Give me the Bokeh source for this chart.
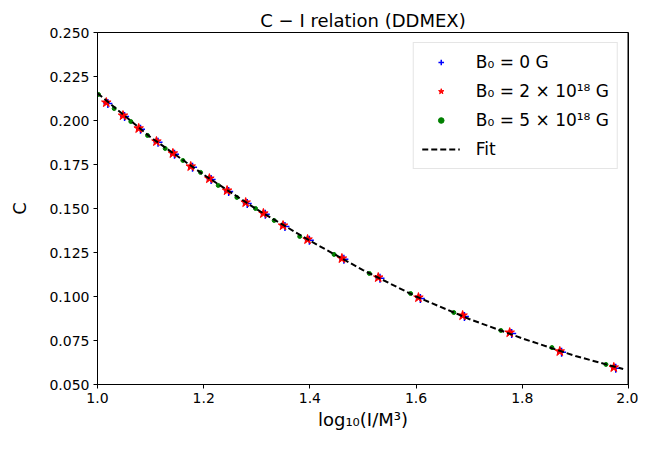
from bokeh.plotting import figure
from bokeh.models import FixedTicker, NumeralTickFormatter, Range1d, Legend, LegendItem
from bokeh.embed import file_html
from bokeh.resources import INLINE

# B0 = 0 G
x_b0 = [1.0195, 1.051, 1.081, 1.114, 1.145, 1.179, 1.214, 1.247, 1.282, 1.316,
        1.353, 1.399, 1.464, 1.532, 1.608, 1.691, 1.780, 1.874, 1.976]
c_b0 = [0.2097, 0.2023, 0.1950, 0.1876, 0.1808, 0.1734, 0.1665, 0.1597, 0.1529, 0.1467,
        0.1398, 0.1319, 0.1211, 0.1103, 0.0989, 0.0887, 0.0790, 0.0683, 0.0592]

# B0 = 2e18 G
x_b2 = [1.0166, 1.048, 1.0776, 1.111, 1.142, 1.1756, 1.2107, 1.244, 1.2791, 1.3124,
        1.3494, 1.3956, 1.4603, 1.5287, 1.6044, 1.6876, 1.7763, 1.8706, 1.9723]
c_b2 = [0.2102, 0.2028, 0.1955, 0.1881, 0.1813, 0.1739, 0.1670, 0.1602, 0.1534, 0.1472,
        0.1403, 0.1324, 0.1216, 0.1108, 0.0994, 0.0892, 0.0795, 0.0688, 0.0597]

# B0 = 5e18 G
x_b5 = [1.0018, 1.0314, 1.0628, 1.0943, 1.1275, 1.1608, 1.1941, 1.2274, 1.2625, 1.2976,
        1.3327, 1.3808, 1.4455, 1.512, 1.5896, 1.671, 1.7597, 1.8558, 1.9575]
c_b5 = [0.2148, 0.2068, 0.1994, 0.1915, 0.1841, 0.1773, 0.1705, 0.1631, 0.1563, 0.1500,
        0.1432, 0.1341, 0.1239, 0.1131, 0.1017, 0.0909, 0.0807, 0.0710, 0.0614]

# Fit curve
x_fit = [1.0, 1.1, 1.2, 1.3, 1.4, 1.5, 1.6, 1.7, 1.8, 1.9, 1.99]
c_fit = [0.2155, 0.1905, 0.1692, 0.1495, 0.1317, 0.1150, 0.1000, 0.0872, 0.0762, 0.0662, 0.0588]

x_ticks = [1.0, 1.2, 1.4, 1.6, 1.8, 2.0]
y_ticks = [0.050, 0.075, 0.100, 0.125, 0.150, 0.175, 0.200, 0.225, 0.250]

FONT = "DejaVu Sans"

p = figure(width=638, height=433, output_backend="svg", toolbar_location=None,
           x_range=Range1d(1.0, 2.0), y_range=Range1d(0.05, 0.25),
           min_border_left=97, min_border_right=10, min_border_top=32, min_border_bottom=49)

p.title.text = "C \u2212 I relation (DDMEX)"
p.title.align = "center"
p.title.text_font = FONT
p.title.text_font_size = "18px"
p.title.text_font_style = "normal"
p.title.text_color = "black"
p.title.standoff = 4

p.xgrid.visible = False
p.ygrid.visible = False
p.outline_line_color = "black"
p.outline_line_width = 1

for ax in (p.xaxis[0], p.yaxis[0]):
    ax.major_label_text_font = FONT
    ax.major_label_text_font_size = "14px"
    ax.major_label_text_color = "black"
    ax.axis_label_text_font = FONT
    ax.axis_label_text_font_size = "18px"
    ax.axis_label_text_font_style = "normal"
    ax.axis_label_text_color = "black"
    ax.axis_line_color = "black"
    ax.major_tick_line_color = "black"
    ax.minor_tick_line_color = None
    ax.major_tick_out = 4
    ax.major_tick_in = 0
    ax.major_label_standoff = 4

p.xaxis[0].ticker = FixedTicker(ticks=x_ticks)
p.yaxis[0].ticker = FixedTicker(ticks=y_ticks)
p.xaxis[0].formatter = NumeralTickFormatter(format="0.0")
p.yaxis[0].formatter = NumeralTickFormatter(format="0.000")
p.xaxis[0].axis_label = "log\u2081\u2080(I/M\u00b3)"
p.yaxis[0].axis_label = "C"
p.xaxis[0].axis_label_standoff = 3
p.yaxis[0].axis_label_standoff = 16

r0 = p.scatter(x_b0, c_b0, marker="cross", size=9, line_color="#0000ff", line_width=1.5)
r2 = p.scatter(x_b2, c_b2, marker="star", size=10, fill_color="#ff0000", line_color="#ff0000")
r5 = p.scatter(x_b5, c_b5, marker="circle", size=4, fill_color="#008000", line_color="#008000")
rf = p.line(x_fit, c_fit, line_color="black", line_width=2, line_dash="6 3")

# right frame edge drawn as a segment along the x-range end
p.segment(x0=[x_ticks[-1]], y0=[y_ticks[0]], x1=[x_ticks[-1]], y1=[y_ticks[-1]],
          line_color="black", line_width=2)

legend = Legend(items=[
    LegendItem(label="B\u2080 = 0 G", renderers=[r0]),
    LegendItem(label="B\u2080 = 2 \u00d7 10\u00b9\u2078 G", renderers=[r2]),
    LegendItem(label="B\u2080 = 5 \u00d7 10\u00b9\u2078 G", renderers=[r5]),
    LegendItem(label="Fit", renderers=[rf]),
], location="top_right")
legend.label_text_font = FONT
legend.label_text_font_size = "17px"
legend.label_text_color = "black"
legend.glyph_width = 38
legend.glyph_height = 14
legend.label_height = 22
legend.spacing = 7
legend.label_standoff = 16
legend.padding = 8
legend.margin = 10
legend.border_line_color = "#cccccc"
legend.border_line_width = 1
legend.background_fill_color = "white"
legend.background_fill_alpha = 0.8
p.add_layout(legend, "center")

open("out.html", "w").write(file_html(p, INLINE))
